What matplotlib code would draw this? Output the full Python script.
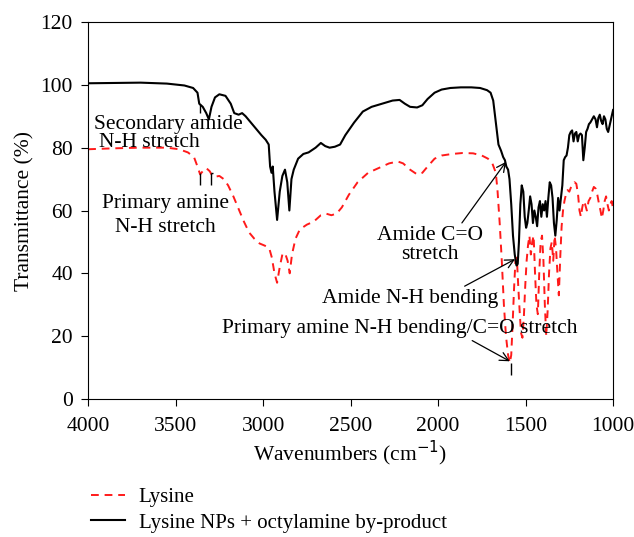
import numpy as np
import matplotlib
matplotlib.use("Agg")
import matplotlib.pyplot as plt

plt.rcParams['font.family'] = ['Liberation Serif', 'DejaVu Serif']

# Lysine NPs + octylamine by-product (black)
wn_np = [4000, 3850, 3700, 3550, 3450, 3400, 3375, 3365, 3345, 3325, 3310, 3295, 3275, 3250,
         3215, 3185, 3165, 3140, 3120, 3100, 3070, 3040, 3010, 2985, 2968, 2960, 2952, 2945,
         2935, 2920, 2905, 2890, 2875, 2862, 2850, 2838, 2825, 2800, 2770, 2740, 2700, 2670,
         2645, 2620, 2590, 2560, 2530, 2480, 2430, 2380, 2320, 2260, 2220, 2190, 2160, 2120,
         2090, 2060, 2020, 1980, 1930, 1870, 1810, 1760, 1720, 1700, 1685, 1670, 1655, 1640,
         1628, 1618, 1610, 1600, 1592, 1582, 1572, 1562, 1552, 1545, 1538, 1530, 1522, 1513,
         1505, 1497, 1490, 1482, 1474, 1466, 1458, 1450, 1442, 1434, 1426, 1418, 1410, 1402,
         1394, 1386, 1378, 1370, 1362, 1354, 1346, 1338, 1330, 1322, 1314, 1306, 1298, 1290,
         1282, 1274, 1266, 1258, 1250, 1242, 1234, 1226, 1218, 1210, 1202, 1194, 1186, 1178,
         1170, 1162, 1154, 1146, 1138, 1130, 1120, 1110, 1100, 1092, 1084, 1076, 1068, 1060,
         1052, 1044, 1036, 1028, 1020, 1012, 1000]
t_np = [100.5, 100.6, 100.7, 100.4, 99.8, 99.0, 97.5, 94.0, 93.0, 91.0, 89.0, 93.0, 96.0, 97.0,
        96.5, 94.0, 91.0, 90.5, 91.0, 90.0, 88.0, 86.0, 84.0, 82.5, 81.0, 74.0, 72.0, 74.0,
        66.0, 57.0, 66.0, 71.0, 73.0, 69.0, 60.0, 70.0, 73.0, 76.5, 78.0, 78.5, 80.0, 81.5,
        80.5, 80.0, 80.3, 81.0, 84.0, 88.0, 91.5, 93.0, 94.0, 95.0, 95.2, 94.0, 93.0, 92.8,
        93.5, 95.5, 97.5, 98.5, 99.0, 99.2, 99.2, 99.0, 98.3, 97.5, 95.0, 88.0, 81.0, 79.0,
        77.0, 76.0, 74.0, 73.0, 70.0, 62.0, 52.0, 46.0, 42.5, 43.0, 50.0, 62.0, 68.0, 66.0,
        58.0, 54.5, 56.0, 60.0, 64.5, 62.0, 56.0, 60.0, 58.0, 55.0, 61.0, 63.0, 58.0, 62.0,
        60.0, 63.0, 58.0, 64.0, 69.0, 68.0, 64.0, 56.0, 52.0, 57.0, 64.0, 60.0, 64.0, 68.0,
        76.0, 77.0, 77.5, 80.0, 84.0, 85.0, 85.5, 82.0, 84.5, 85.0, 82.0, 84.0, 84.5, 84.0,
        76.0, 80.0, 85.0, 86.0, 87.5, 88.0, 89.0, 90.0, 89.0, 86.5, 89.5, 90.5, 88.5, 87.5,
        90.0, 89.0, 86.0, 85.0, 87.0, 89.0, 92.0]

# Lysine (red dashed)
wn_lys = [4000, 3850, 3700, 3550, 3480, 3430, 3395, 3375, 3360, 3345, 3325, 3305, 3290, 3270,
          3250, 3225, 3200, 3170, 3140, 3110, 3080, 3050, 3020, 2990, 2965, 2950, 2935, 2920,
          2905, 2890, 2875, 2860, 2848, 2835, 2815, 2790, 2750, 2710, 2670, 2640, 2610, 2580,
          2550, 2510, 2460, 2400, 2340, 2280, 2230, 2200, 2160, 2120, 2090, 2060, 2020, 1980,
          1920, 1860, 1800, 1750, 1715, 1690, 1670, 1660, 1648, 1636, 1624, 1612, 1600, 1590,
          1582, 1574, 1566, 1558, 1550, 1542, 1534, 1526, 1518, 1510, 1502, 1494, 1486, 1478,
          1470, 1462, 1454, 1446, 1438, 1430, 1422, 1414, 1406, 1398, 1390, 1382, 1374, 1366,
          1358, 1350, 1342, 1334, 1326, 1318, 1310, 1302, 1294, 1286, 1278, 1270, 1260, 1250,
          1240, 1230, 1220, 1210, 1200, 1192, 1184, 1176, 1168, 1160, 1150, 1140, 1130, 1120,
          1110, 1100, 1090, 1080, 1072, 1064, 1056, 1048, 1040, 1032, 1024, 1016, 1008, 1000]
t_lys = [79.5, 79.8, 80.0, 80.0, 79.5, 78.5, 77.0, 74.0, 71.5, 72.5, 73.5, 72.5, 71.0, 70.8,
         71.0, 70.0, 68.0, 64.5, 60.5, 56.5, 53.0, 51.0, 49.5, 48.8, 48.0, 45.0, 40.0, 37.0,
         42.0, 46.0, 46.5, 44.0, 40.0, 46.0, 51.0, 54.0, 55.5, 56.5, 58.5, 59.0, 58.5, 59.0,
         61.0, 65.0, 69.0, 72.0, 73.5, 75.0, 75.6, 75.0, 73.0, 71.5, 72.0, 74.0, 76.5, 77.5,
         78.0, 78.3, 78.2, 77.5, 76.5, 75.0, 72.0, 66.0, 56.0, 44.0, 30.0, 20.0, 14.0, 11.5,
         14.0, 24.0, 35.0, 44.0, 45.0, 36.0, 28.0, 21.0, 19.5, 26.0, 36.0, 44.0, 49.0, 52.0,
         46.0, 50.0, 52.0, 40.0, 30.0, 27.0, 40.0, 50.0, 52.0, 44.0, 30.0, 20.0, 28.0, 40.0,
         48.0, 50.0, 44.0, 52.0, 48.0, 40.0, 33.0, 45.0, 55.0, 60.0, 63.0, 65.0, 66.5, 66.0,
         67.5, 68.0, 69.0, 68.5, 65.0, 60.0, 58.0, 61.0, 63.0, 62.0, 60.0, 63.0, 64.0, 66.0,
         67.5, 67.0, 65.0, 62.0, 60.0, 57.5, 60.0, 63.0, 64.5, 62.0, 60.0, 62.0, 63.0, 60.5]

fig = plt.figure(figsize=(6.34, 5.37), dpi=100)
ax = fig.add_axes([0.139, 0.257, 0.828, 0.702])

lys_line, = ax.plot(wn_lys, t_lys, color='#ff1a1a', lw=1.4, ls=(0, (4, 3)), label='Lysine')
np_line, = ax.plot(wn_np, t_np, color='black', lw=1.5,
                   label='Lysine NPs + octylamine by-product')

# little peak markers
ax.vlines(3360, 91, 94, color='black', lw=1)
ax.vlines([3360, 3300], [68, 68], [72, 72], color='black', lw=1)
ax.hlines(72, 3300, 3285, color='black', lw=1)
ax.vlines(1582, 7.5, 11.5, color='black', lw=1)

fs = 15.5
ax.set_xlim(4000, 1000)
ax.set_ylim(0, 120)
ax.set_xticks(np.arange(4000, 999, -500))
ax.set_yticks(np.arange(0, 121, 20))
ax.tick_params(direction='out', length=5, labelsize=fs, top=False, right=False)
ax.tick_params(axis='x', pad=8)
ax.tick_params(axis='y', pad=6)
ax.set_xlabel('Wavenumbers (cm$^{-1}$)', fontsize=fs, labelpad=2)
ax.set_ylabel('Transmittance (%)', fontsize=fs, labelpad=4)

ax.text(3966, 87.3, 'Secondary amide', ha='left', va='center', fontsize=fs)
ax.text(3937, 81.5, 'N-H stretch', ha='left', va='center', fontsize=fs)
ax.text(3560, 58.4, 'Primary amine\nN-H stretch', ha='center', va='center', fontsize=fs,
        linespacing=1.35)
ax.annotate('Amide C=O\nstretch', xy=(1612, 75.5), xytext=(2045, 49), ha='center', va='center',
            fontsize=fs, linespacing=1.05,
            arrowprops=dict(arrowstyle='->', color='black', lw=0.9, shrinkA=0, shrinkB=0,
                            relpos=(0.78, 1.0)))
ax.annotate('Amide N-H bending', xy=(1560, 44.5), xytext=(2160, 32), ha='center', va='center',
            fontsize=fs,
            arrowprops=dict(arrowstyle='->', color='black', lw=0.9, shrinkA=0, shrinkB=0,
                            relpos=(0.78, 1.0)))
ax.annotate('Primary amine N-H bending/C=O stretch', xy=(1590, 12), xytext=(2220, 22.5),
            ha='center', va='center', fontsize=fs,
            arrowprops=dict(arrowstyle='->', color='black', lw=0.9, shrinkA=0, shrinkB=0,
                            relpos=(0.69, 0.0)))

fig.legend(handles=[lys_line, np_line], loc='upper left', bbox_to_anchor=(0.130, 0.108),
           frameon=False, fontsize=15, handlelength=1.65, handletextpad=0.65,
           borderaxespad=0, labelspacing=0.3)

fig.savefig('out.png', dpi=100)
